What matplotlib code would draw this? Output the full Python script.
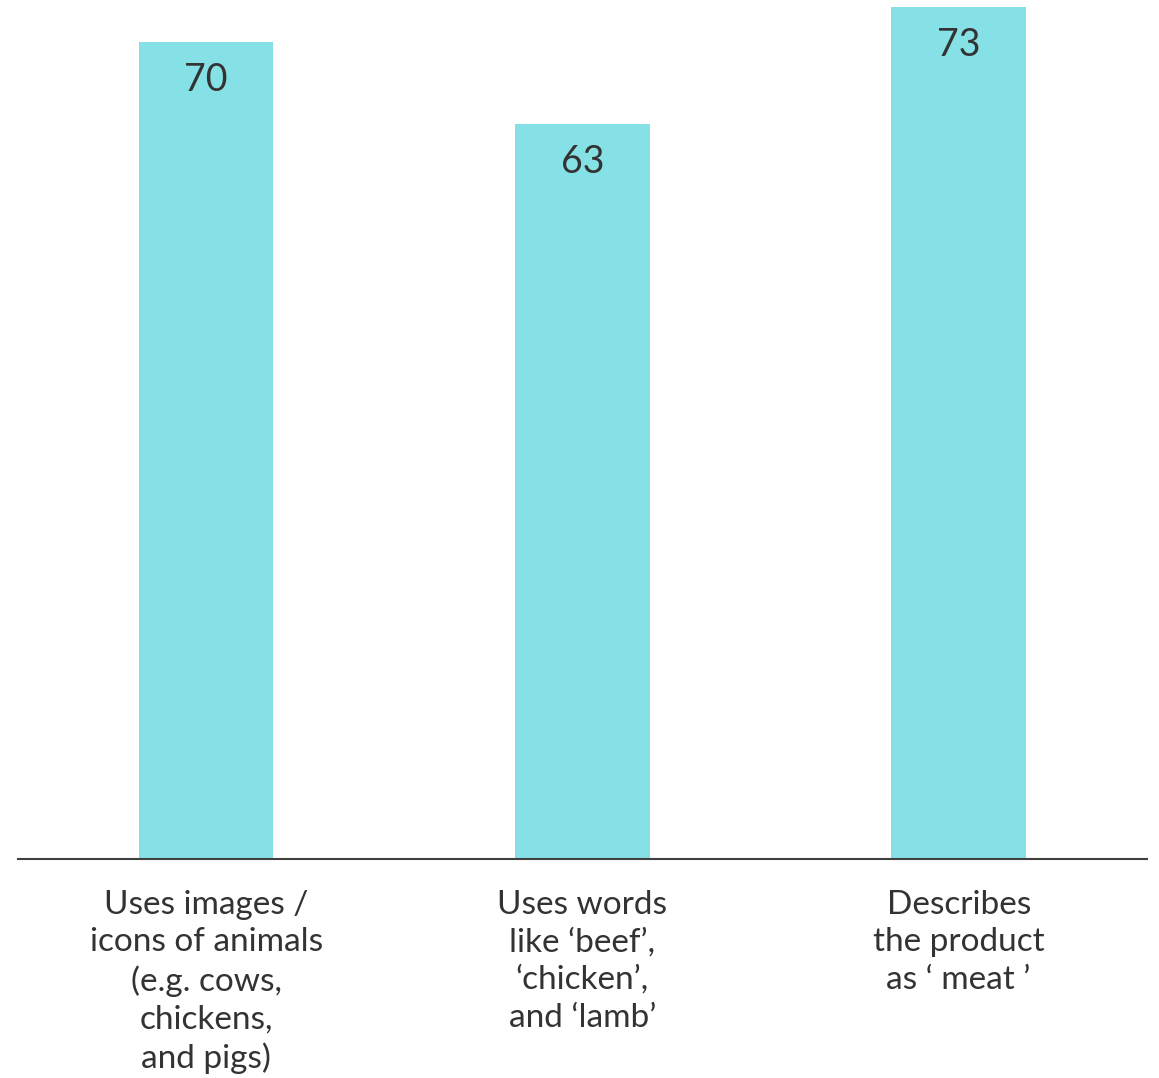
import matplotlib
matplotlib.use('Agg')
import matplotlib.pyplot as plt

# Данные
categories = ['Uses images /\nicons of animals\n(e.g. cows,\nchickens,\nand pigs)',
              'Uses words\nlike \u2018beef\u2019,\n\u2018chicken\u2019,\nand \u2018lamb\u2019',
              'Describes\nthe product\nas \u2018 meat \u2019']
values = [70, 63, 73]

plt.rcParams['font.family'] = ['Lato', 'DejaVu Sans']

fig = plt.figure(figsize=(11.59, 10.78), dpi=100)
ax = fig.add_axes([0.0155, 0.2032, 0.974, 0.7968])

x = list(range(len(values)))
bars = ax.bar(x, values, width=0.358, color='#86E1E6')

# подписи значений внутри столбцов
for xi, v in zip(x, values):
    ax.annotate(str(v), (xi, v), xytext=(0, -38), textcoords='offset pixels',
                ha='center', va='center', fontsize=27, color='#333333')

ax.set_xlim(-0.5, 2.5)
ax.set_ylim(0, 73.6)
ax.set_xticks(x)
ax.set_xticklabels(categories, fontsize=24, color='#333333', linespacing=1.32)
ax.tick_params(axis='x', length=0, pad=22)
ax.set_yticks([])

for s in ['top', 'right', 'left']:
    ax.spines[s].set_visible(False)
ax.spines['bottom'].set_color('#404040')
ax.spines['bottom'].set_linewidth(1.5)

fig.savefig('out.png', dpi=100)
plt.close(fig)
